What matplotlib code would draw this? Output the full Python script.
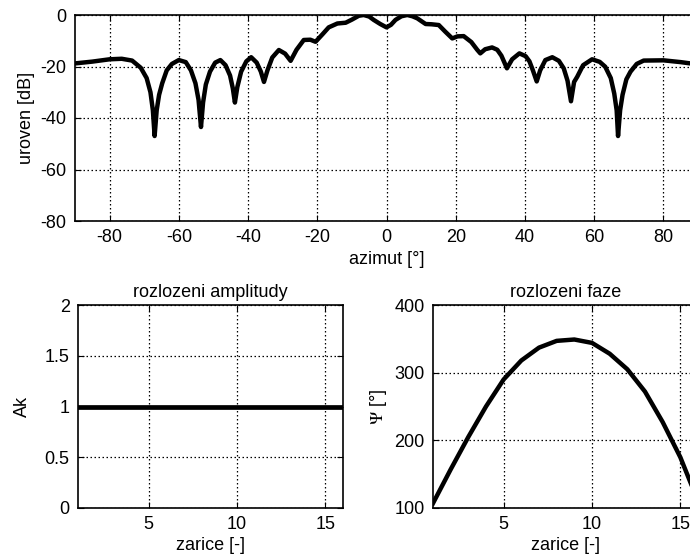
import matplotlib
matplotlib.use("Agg")
import matplotlib.pyplot as plt

plt.rcParams["font.family"] = ["Liberation Sans", "DejaVu Sans"]
plt.rcParams["mathtext.fontset"] = "stix"
plt.rcParams["axes.unicode_minus"] = False
plt.rcParams["font.size"] = 13

# smerova charakteristika (azimut [deg], uroven [dB])
azimut = [-90, -85, -80, -76.5, -73.5, -71, -69.3, -68.2, -67.5, -67.0, -66.4,
          -65.7, -64.8, -63.5, -62, -60, -58, -56.5, -55.2, -54.3, -53.6, -53.0,
          -52.2, -51.0, -49.5, -48, -46.5, -45.2, -44.4, -43.8, -43.1, -42,
          -40.5, -39.1, -37.5, -36.3, -35.4, -34.4, -33, -31.1, -29.3, -27.7,
          -26, -23.9, -22, -20.5, -18.5, -16.7, -14.2, -11.8, -10, -8, -6.6,
          -5, -3.7, -1.8, 0,
          1.3, 2.6, 4.3, 6, 7.5, 8.9, 10.2, 11.3, 13, 15.1, 17, 19, 20.5, 22.3,
          24.5, 26.2, 27.1, 28.5, 30.5, 32, 33.2, 34.8, 36.3, 38.4, 40.2, 41.3,
          42.3, 43.4, 44.4, 45.9, 47.9, 49.8, 51.2, 52.3, 53.3, 54.2, 55.1,
          56.8, 59.4, 61.6, 63.2, 64.8, 65.8, 66.5, 66.9, 67.5, 68.2, 69.3,
          70.5, 72.3, 74.3, 80, 85, 90]
uroven = [-18.8, -18.1, -17.2, -17.0, -17.7, -20.5, -24.5, -30, -37, -47, -37,
          -31, -26.5, -21.5, -19, -17.5, -18.3, -21.5, -26.5, -33, -43.5, -34,
          -27, -22, -18.5, -17.5, -19.5, -23.5, -28.5, -34, -28, -22,
          -18, -16.4, -18.5, -22, -26, -21.5, -16.5, -13.6, -15, -17.8,
          -13.5, -9.7, -9.6, -10.4, -7.5, -4.8, -3.3, -3.0, -1.8, -0.3, 0,
          -0.6, -1.9, -3.5, -4.8,
          -3.8, -1.9, -0.5, 0, -0.5, -1.3, -2.5, -3.5, -3.6, -3.9, -6.5, -9.1,
          -8.3, -8.2, -10.5, -13.5, -14.9, -13.3, -12.6, -13.5, -15.8, -20.7,
          -17.2, -14.9, -16, -18, -21.5, -25.8, -21.5, -17.5, -16.4, -17.8,
          -20.7, -25.5, -33.5, -26, -24, -19.5, -17.2, -18.2, -20.1, -24.5,
          -30.5, -37, -47, -37, -31, -25, -22, -19, -17.7, -17.6, -18.3, -19.2]

# buzeni jednotlivych zaricu
zarice = list(range(1, 17))
amplituda = [1] * 16
faze = [107, 157, 205, 250, 290, 318, 337, 347, 349, 344, 328, 305, 272, 227,
        175, 110]

grid_kw = dict(color="k", linestyle=(0, (1.2, 2.0)), linewidth=0.9)


def style(ax):
    ax.grid(True, **grid_kw)
    ax.tick_params(direction="in", length=4, top=True, right=True, pad=6,
                   labelsize=13)
    for s in ax.spines.values():
        s.set_linewidth(1.2)


fig = plt.figure(figsize=(6.9, 5.57), dpi=100)

ax1 = fig.add_axes([75 / 690, 336 / 557, 623 / 690, 206 / 557])
ax1.plot(azimut, uroven, color="k", linewidth=3.2)
ax1.set_xlim(-90, 90)
ax1.set_ylim(-80, 0)
ax1.set_xticks(range(-80, 81, 20))
ax1.set_yticks(range(-80, 1, 20))
ax1.set_xlabel("azimut [°]", labelpad=3)
ax1.set_ylabel("uroven [dB]", labelpad=4)
style(ax1)

ax2 = fig.add_axes([78 / 690, 49 / 557, 265 / 690, 203 / 557])
ax2.plot(zarice, amplituda, color="k", linewidth=3.4)
ax2.set_xlim(1, 16)
ax2.set_ylim(0, 2)
ax2.set_xticks([5, 10, 15])
ax2.set_yticks([0, 0.5, 1, 1.5, 2])
ax2.set_yticklabels(["0", "0.5", "1", "1.5", "2"])
ax2.set_xlabel("zarice [-]", labelpad=3)
ax2.set_ylabel("Ak", labelpad=10)
ax2.set_title("rozlozeni amplitudy", fontsize=13, pad=6)
style(ax2)

ax3 = fig.add_axes([433 / 690, 49 / 557, 265 / 690, 203 / 557])
ax3.plot(zarice, faze, color="k", linewidth=3.2)
ax3.set_xlim(1, 16)
ax3.set_ylim(100, 400)
ax3.set_xticks([5, 10, 15])
ax3.set_yticks([100, 200, 300, 400])
ax3.set_xlabel("zarice [-]", labelpad=3)
ax3.set_ylabel(r"$\Psi$ [°]", labelpad=4)
ax3.set_title("rozlozeni faze", fontsize=13, pad=6)
style(ax3)

fig.savefig("out.png", dpi=100)
